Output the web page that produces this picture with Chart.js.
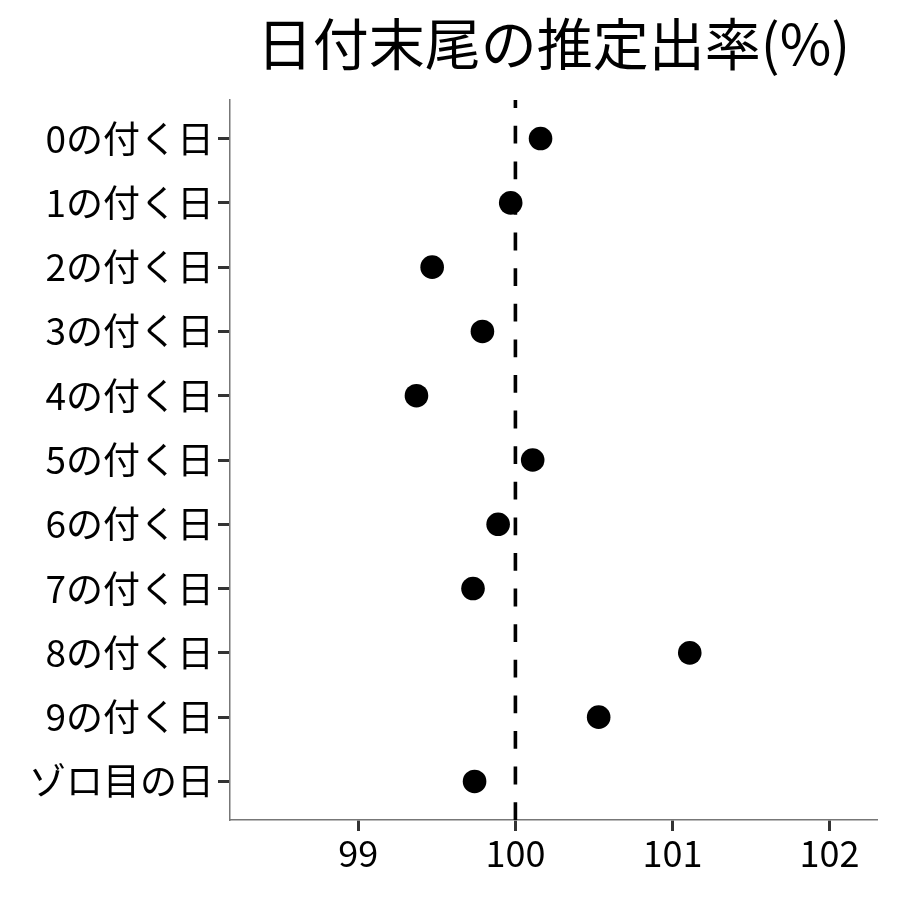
<!DOCTYPE html>
<html>
<head>
<meta charset="utf-8">
<script src="https://cdn.jsdelivr.net/npm/chart.js@4"></script>
<style>
html,body{margin:0;padding:0;background:#fff;}
#c{display:block;}
</style>
</head>
<body>
<canvas id="c" width="900" height="900"></canvas>
<script>
const titleText = '日付末尾の推定出率(%)';
const categories = ['0の付く日','1の付く日','2の付く日','3の付く日','4の付く日','5の付く日','6の付く日','7の付く日','8の付く日','9の付く日','ゾロ目の日'];
const rates = [100.16, 99.97, 99.47, 99.79, 99.37, 100.11, 99.89, 99.73, 101.11, 100.53, 99.74];
const xTicks = [99, 100, 101, 102];
const refValue = 100;

const FONT = '"Noto Sans CJK JP", "Noto Sans", sans-serif';

const titlePlugin = {
  id: 'centerTitle',
  afterDraw(chart) {
    const ctx = chart.ctx, a = chart.chartArea;
    ctx.save();
    ctx.fillStyle = '#000';
    ctx.font = '56px ' + FONT;
    ctx.textAlign = 'center';
    ctx.textBaseline = 'middle';
    ctx.fillText(titleText, (a.left + a.right) / 2, 44);
    ctx.restore();
  }
};

new Chart(document.getElementById('c'), {
  type: 'scatter',
  data: {
    datasets: [
      {
        type: 'scatter',
        data: rates.map((v, i) => ({ x: v, y: i })),
        backgroundColor: '#000',
        borderWidth: 0,
        pointRadius: 11.8,
        pointHoverRadius: 11.8,
        order: 0
      },
      {
        type: 'line',
        data: [{ x: refValue, y: categories.length - 1 + 0.6 }, { x: refValue, y: -0.6 }],
        borderColor: '#000',
        borderWidth: 3.6,
        borderDash: [17.8, 17.8],
        pointRadius: 0,
        fill: false,
        order: 1
      }
    ]
  },
  options: {
    responsive: false,
    animation: false,
    devicePixelRatio: 1,
    layout: { padding: { top: 100, right: 23, left: 0, bottom: 0 } },
    plugins: { legend: { display: false }, tooltip: { enabled: false }, title: { display: false } },
    scales: {
      x: {
        type: 'linear',
        min: 98.183,
        max: 102.302,
        afterBuildTicks(scale) { scale.ticks = xTicks.map(v => ({ value: v })); },
        afterFit(scale) { scale.height = 80; },
        ticks: {
          color: '#000',
          font: { family: FONT, size: 36 },
          padding: 1,
          maxRotation: 0,
          callback: v => String(v)
        },
        grid: { drawOnChartArea: false, drawTicks: true, tickLength: 11, tickWidth: 3, tickColor: '#333' },
        border: { display: true, color: '#777', width: 1.5 }
      },
      y: {
        type: 'linear',
        min: -0.6,
        max: categories.length - 1 + 0.6,
        reverse: true,
        afterBuildTicks(scale) { scale.ticks = categories.map((c, i) => ({ value: i })); },
        afterFit(scale) { scale.width = 230; },
        ticks: {
          color: '#000',
          font: { family: FONT, size: 37 },
          padding: 4,
          callback: v => categories[v]
        },
        grid: { drawOnChartArea: false, drawTicks: true, tickLength: 12, tickWidth: 3, tickColor: '#333' },
        border: { display: true, color: '#777', width: 1.5 }
      }
    }
  },
  plugins: [titlePlugin]
});
</script>
</body>
</html>
